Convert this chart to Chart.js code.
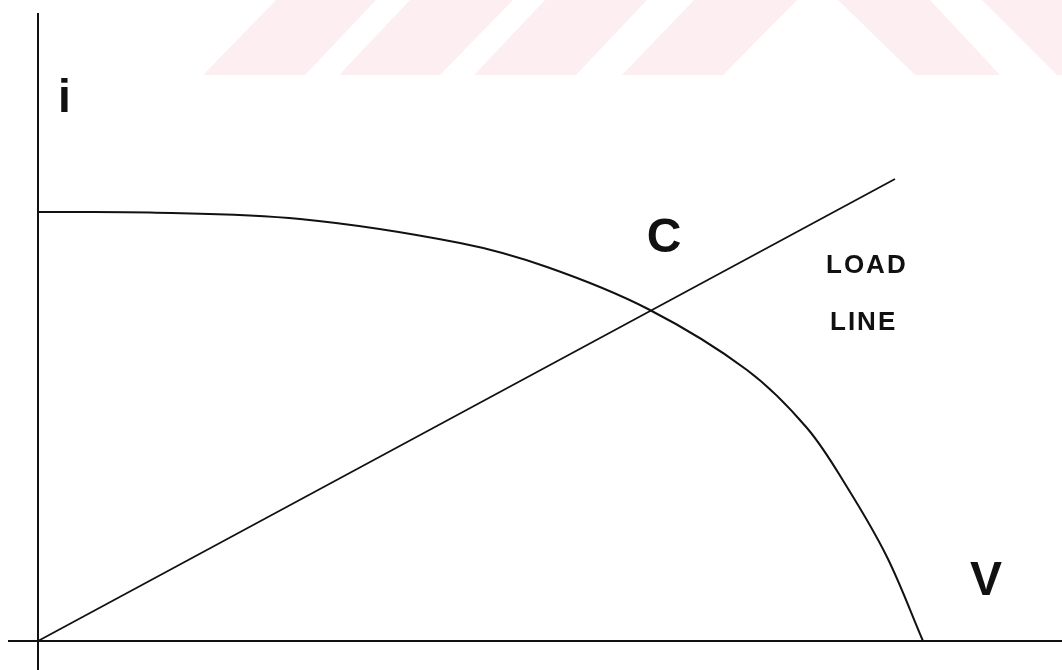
<!DOCTYPE html>
<html>
<head>
<meta charset="utf-8">
<script src="https://cdn.jsdelivr.net/npm/chart.js@4.4.0/dist/chart.umd.min.js"></script>
<style>
  html, body { margin: 0; padding: 0; background: #fff; }
  #wrap { width: 1062px; height: 670px; position: relative; }
</style>
</head>
<body>
<div id="wrap"><canvas id="ivChart"></canvas></div>
<script>
// i-V characteristic of the source, voltage vs current
const curveV = [0, 11.2, 26.2, 42.2, 50.9, 61.0, 70.9, 76.9, 80.9, 84.9, 88.5];
const curveI = [42.9, 42.85, 42.2, 39.8, 37.4, 33.2, 27.1, 21.3, 15.4, 8.4, 0];

// load line through the origin
const loadV = [0, 85.7];
const loadI = [0, 46.2];

// axes
const axisXRange = [-3.0, 102.4];
const axisYRange = [-2.9, 62.8];

// text labels
const labelTexts = ['i', 'C', 'LOAD', 'LINE', 'V'];
const labelX = [2.65, 62.6, 78.8, 79.2, 94.8];
const labelY = [52.9, 38.9, 36.8, 31.1, 4.6];

function pts(xs, ys) {
  return xs.map(function(x, i) { return { x: x, y: ys[i] }; });
}

const ink = '#111';

const stripes = {
  id: 'stripes',
  beforeDraw: function(chart) {
    const ctx = chart.ctx;
    // faint banner stripes along the top edge
    const bands = [[203, 305, 276, 376], [339, 440, 410, 513], [474, 576, 545, 647], [622, 723, 694, 797],
                   [915, 1000, 838, 930], [1057, 1150, 982, 1075]];
    ctx.save();
    ctx.fillStyle = '#fdeef1';
    bands.forEach(function(s) {
      ctx.beginPath();
      ctx.moveTo(s[0], 75);
      ctx.lineTo(s[1], 75);
      ctx.lineTo(s[3], 0);
      ctx.lineTo(s[2], 0);
      ctx.closePath();
      ctx.fill();
    });
    ctx.restore();
  }
};

const textLabels = {
  id: 'textLabels',
  afterDatasetsDraw: function(chart) {
    const ctx = chart.ctx;
    const xs = chart.scales.x, ys = chart.scales.y;
    ctx.save();
    ctx.fillStyle = ink;
    ctx.textBaseline = 'alphabetic';
    labelTexts.forEach(function(t, i) {
      const px = xs.getPixelForValue(labelX[i]);
      const py = ys.getPixelForValue(labelY[i]);
      if (t.length > 1) {
        ctx.font = 'bold 26px "Liberation Sans", Arial, sans-serif';
        ctx.letterSpacing = '2px';
        ctx.textAlign = 'left';
      } else {
        ctx.font = 'bold ' + (t === 'i' ? 46 : 48) + 'px "Liberation Sans", Arial, sans-serif';
        ctx.letterSpacing = '0px';
        ctx.textAlign = 'center';
      }
      ctx.fillText(t, px, py);
    });
    ctx.restore();
  }
};

new Chart(document.getElementById('ivChart'), {
  type: 'line',
  data: {
    datasets: [
      {
        data: [{ x: axisXRange[0], y: 0 }, { x: axisXRange[1], y: 0 }],
        borderColor: ink, borderWidth: 2, pointRadius: 0
      },
      {
        data: [{ x: 0, y: axisYRange[0] }, { x: 0, y: axisYRange[1] }],
        borderColor: ink, borderWidth: 2, pointRadius: 0
      },
      {
        data: pts(curveV, curveI),
        borderColor: ink, borderWidth: 2, pointRadius: 0,
        tension: 0.35
      },
      {
        data: pts(loadV, loadI),
        borderColor: ink, borderWidth: 1.8, pointRadius: 0
      }
    ]
  },
  options: {
    responsive: true,
    maintainAspectRatio: false,
    animation: false,
    layout: { padding: 0 },
    plugins: { legend: { display: false }, tooltip: { enabled: false } },
    scales: {
      x: { type: 'linear', min: -3.8, max: 102.4, display: false },
      y: { type: 'linear', min: -2.9, max: 64.1, display: false }
    }
  },
  plugins: [stripes, textLabels]
});
</script>
</body>
</html>
